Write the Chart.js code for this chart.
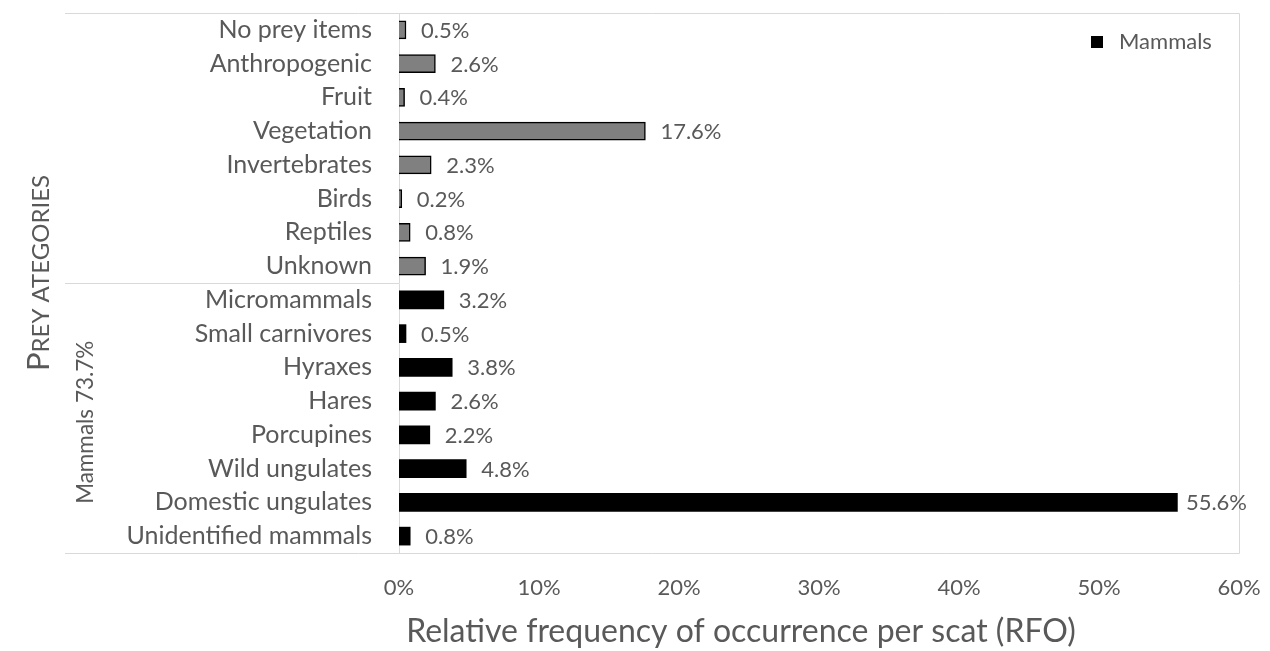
<!DOCTYPE html>
<html>
<head>
<meta charset="utf-8">
<script src="https://cdn.jsdelivr.net/npm/chart.js@4"></script>
<style>
  body { margin: 0; background: #fff; }
  canvas { display: block; }
</style>
</head>
<body>
<canvas id="preyChart" width="1270" height="651"></canvas>
<script>
'use strict';

// Categories, top to bottom
let categories = [
  'No prey items', 'Anthropogenic', 'Fruit', 'Vegetation', 'Invertebrates',
  'Birds', 'Reptiles', 'Unknown',
  'Micromammals', 'Small carnivores', 'Hyraxes', 'Hares', 'Porcupines',
  'Wild ungulates', 'Domestic ungulates', 'Unidentified mammals'
];

// Non-mammal prey (gray bars), null where the row belongs to mammals
let otherValues = [0.5, 2.6, 0.4, 17.6, 2.3, 0.2, 0.8, 1.9,
  null, null, null, null, null, null, null, null];

// Mammal prey (black bars)
let mammalValues = [null, null, null, null, null, null, null, null,
  3.2, 0.5, 3.8, 2.6, 2.2, 4.8, 55.6, 0.8];

let xTicks = [0, 10, 20, 30, 40, 50, 60];
let groupLabel = 'Mammals 73.7%';
let firstMammalIndex = 8;

let textColor = '#595959';
let lineColor = '#d9d9d9';
let fontFamily = 'Lato, "Open Sans", sans-serif';

// Draws the frame, group divider, rotated titles, legend and value labels
let extrasPlugin = {
  id: 'extras',
  afterDraw: function (chart) {
    let ctx = chart.ctx;
    let area = chart.chartArea;
    let yScale = chart.scales.y;
    let left = 65;

    ctx.save();
    ctx.strokeStyle = lineColor;
    ctx.lineWidth = 1;
    ctx.beginPath();
    ctx.moveTo(left, area.top + 0.5);
    ctx.lineTo(area.right + 0.5, area.top + 0.5);
    ctx.lineTo(area.right + 0.5, area.bottom + 0.5);
    ctx.lineTo(left, area.bottom + 0.5);
    let divY = Math.round((yScale.getPixelForValue(firstMammalIndex - 1) + yScale.getPixelForValue(firstMammalIndex)) / 2) + 0.5;
    ctx.moveTo(left, divY);
    ctx.lineTo(area.left, divY);
    ctx.stroke();

    // value labels
    ctx.fillStyle = textColor;
    ctx.font = '22px ' + fontFamily;
    ctx.textBaseline = 'middle';
    ctx.textAlign = 'left';
    chart.data.datasets.forEach(function (ds, di) {
      let meta = chart.getDatasetMeta(di);
      meta.data.forEach(function (bar, i) {
        let v = ds.data[i];
        if (v === null) return;
        let txt = v.toFixed(1) + '%';
        let w = ctx.measureText(txt).width;
        let x = Math.min(bar.x + 15, area.right + 8 - w);
        ctx.fillText(txt, x, bar.y + 1);
      });
    });

    // group label for the mammal rows
    let groupMid = (divY + area.bottom) / 2;
    ctx.save();
    ctx.translate(86, groupMid + 4);
    ctx.rotate(-Math.PI / 2);
    ctx.textAlign = 'center';
    ctx.font = '22.5px ' + fontFamily;
    ctx.fillText(groupLabel, 0, 0);
    ctx.restore();

    // y axis title in small caps
    ctx.save();
    ctx.translate(38, (area.top + area.bottom) / 2 - 10);
    ctx.rotate(-Math.PI / 2);
    let bigFont = '31px ' + fontFamily;
    let smallFont = '24px ' + fontFamily;
    ctx.font = bigFont;
    let wP = ctx.measureText('P').width;
    ctx.font = smallFont;
    let wRest = ctx.measureText('REY ATEGORIES').width;
    let startX = -(wP + wRest) / 2;
    ctx.textAlign = 'left';
    ctx.textBaseline = 'alphabetic';
    ctx.font = bigFont;
    ctx.fillText('P', startX, 11);
    ctx.font = smallFont;
    ctx.fillText('REY ATEGORIES', startX + wP, 11);
    ctx.restore();

    // legend
    let mammals = chart.data.datasets[1];
    ctx.fillStyle = mammals.backgroundColor;
    ctx.fillRect(1091, 36, 12, 12);
    ctx.fillStyle = textColor;
    ctx.font = '22px ' + fontFamily;
    ctx.textBaseline = 'middle';
    ctx.fillText(mammals.label, 1119, 42);

    // x axis title
    ctx.textAlign = 'center';
    ctx.textBaseline = 'middle';
    ctx.font = '32px ' + fontFamily;
    ctx.fillText('Relative frequency of occurrence per scat (RFO)', 741, 632);
    ctx.restore();
  }
};

let ctx = document.getElementById('preyChart').getContext('2d');

new Chart(ctx, {
  type: 'bar',
  data: {
    labels: categories,
    datasets: [
      {
        label: 'Other',
        data: otherValues,
        backgroundColor: '#808080',
        borderColor: '#000000',
        borderWidth: 1.5,
        grouped: false,
        barThickness: 18
      },
      {
        label: 'Mammals',
        data: mammalValues,
        backgroundColor: '#000000',
        borderColor: '#000000',
        borderWidth: 0,
        grouped: false,
        barThickness: 18
      }
    ]
  },
  options: {
    indexAxis: 'y',
    responsive: false,
    animation: false,
    layout: { padding: { top: 13, right: 31, left: 0, bottom: 0 } },
    plugins: {
      legend: { display: false },
      tooltip: { enabled: false }
    },
    scales: {
      x: {
        min: 0,
        max: 60,
        afterBuildTicks: function (scale) {
          scale.ticks = xTicks.map(function (v) { return { value: v }; });
        },
        afterFit: function (scale) {
          scale.height = 98;
          scale.paddingLeft = 0;
          scale.paddingRight = 0;
        },
        grid: { display: false, drawTicks: false },
        border: { display: false },
        ticks: {
          padding: 22,
          color: textColor,
          font: { family: fontFamily, size: 22 },
          callback: function (v) { return v + '%'; }
        }
      },
      y: {
        afterFit: function (scale) {
          scale.width = 399;
          scale.paddingTop = 0;
          scale.paddingBottom = 0;
        },
        grid: { display: false, drawTicks: false },
        border: { display: true, color: lineColor, width: 1 },
        ticks: {
          padding: 27,
          color: textColor,
          font: { family: fontFamily, size: 25 }
        }
      }
    }
  },
  plugins: [extrasPlugin]
});
</script>
</body>
</html>
